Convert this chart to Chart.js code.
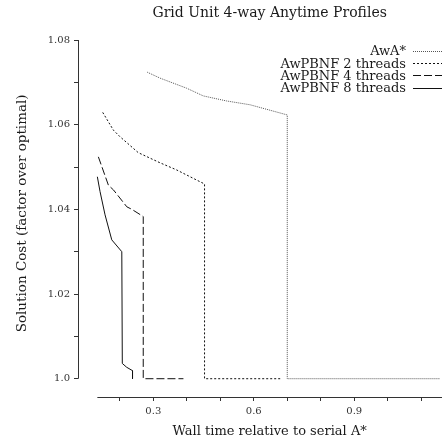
<!DOCTYPE html>
<html>
<head>
<meta charset="utf-8">
<script src="https://cdn.jsdelivr.net/npm/chart.js@4.4.1/dist/chart.umd.min.js"></script>
<style>
  html, body { margin: 0; padding: 0; background: #fff; }
  #chart { display: block; }
</style>
</head>
<body>
<canvas id="chart" width="442" height="442"></canvas>
<script>
// values
const awaX = [0.282, 0.32, 0.40, 0.449, 0.519, 0.589, 0.70, 0.70, 1.156];
const awaY = [1.0724, 1.071, 1.0686, 1.0668, 1.0656, 1.0647, 1.0623, 1.0, 1.0];

const pbnf2X = [0.149, 0.181, 0.20, 0.255, 0.32, 0.37, 0.43, 0.453, 0.453, 0.68];
const pbnf2Y = [1.0629, 1.0587, 1.0572, 1.0534, 1.051, 1.0493, 1.0469, 1.046, 1.0, 1.0];

const pbnf4X = [0.136, 0.166, 0.181, 0.221, 0.236, 0.27, 0.27, 0.39];
const pbnf4Y = [1.0524, 1.0457, 1.0446, 1.0406, 1.040, 1.0383, 1.0, 1.0];

const pbnf8X = [0.133, 0.141, 0.156, 0.176, 0.206, 0.2075, 0.2206, 0.238, 0.238];
const pbnf8Y = [1.0477, 1.0442, 1.0387, 1.0328, 1.030, 1.0036, 1.0027, 1.0019, 1.0];

const seriesNames = ["AwA*", "AwPBNF 2 threads", "AwPBNF 4 threads", "AwPBNF 8 threads"];

const xTicks = [0.2, 0.3, 0.4, 0.5, 0.6, 0.7, 0.8, 0.9, 1.0, 1.1];
const xTickLabels = ["", "0.3", "", "", "0.6", "", "", "0.9", "", ""];
const yTicks = [1.0, 1.01, 1.02, 1.03, 1.04, 1.05, 1.06, 1.07, 1.08];
const yTickLabels = ["1.0", "", "1.02", "", "1.04", "", "1.06", "", "1.08"];

const chartTitle = "Grid Unit 4-way Anytime Profiles";
const xTitle = "Wall time relative to serial A*";
const yTitle = "Solution Cost (factor over optimal)";

const FONT = "'DejaVu Serif', 'Liberation Serif', serif";
const INK = "#1a1a1a";
const AXIS = "#333";

const toPoints = (xs, ys) => xs.map((x, i) => ({ x: x, y: ys[i] }));

// 枠から離れた軸線（データ範囲だけ引く）とタイトル類
const detachedAxes = {
  id: "detachedAxes",
  afterDraw(chart) {
    const { ctx, chartArea, scales } = chart;
    const allX = [].concat(awaX, pbnf2X, pbnf4X, pbnf8X);
    const x0 = scales.x.getPixelForValue(Math.min(...allX));
    const yTop = scales.y.getPixelForValue(yTicks[yTicks.length - 1]);
    const yBot = scales.y.getPixelForValue(yTicks[0]);
    const xMid = (x0 + chartArea.right) / 2;
    ctx.save();
    ctx.strokeStyle = AXIS;
    ctx.lineWidth = 1;
    ctx.beginPath();
    ctx.moveTo(x0, chartArea.bottom + 0.5);
    ctx.lineTo(chartArea.right, chartArea.bottom + 0.5);
    ctx.moveTo(chartArea.left + 0.5, yTop);
    ctx.lineTo(chartArea.left + 0.5, yBot);
    ctx.stroke();

    ctx.fillStyle = INK;
    ctx.textAlign = "center";
    ctx.textBaseline = "middle";
    ctx.font = "14px " + FONT;
    ctx.fillText(chartTitle, xMid, 13.5);

    ctx.font = "13px " + FONT;
    ctx.fillText(xTitle, xMid, 432);

    ctx.font = "13.5px " + FONT;
    ctx.translate(22.5, (yTop + yBot) / 2 + 4);
    ctx.rotate(-Math.PI / 2);
    ctx.fillText(yTitle, 0, 0);
    ctx.restore();
  }
};

// 右上の凡例（文字が左、線見本が右）
const rightLegend = {
  id: "rightLegend",
  afterDraw(chart) {
    const { ctx } = chart;
    const textRight = 406;
    const sampleLeft = 413;
    const sampleRight = 442;
    let y = 52;
    ctx.save();
    ctx.font = "13px " + FONT;
    ctx.textAlign = "right";
    ctx.textBaseline = "middle";
    chart.data.datasets.forEach((ds) => {
      ctx.fillStyle = INK;
      ctx.fillText(ds.label, textRight, y);
      ctx.strokeStyle = ds.borderColor;
      ctx.lineWidth = ds.borderWidth;
      ctx.setLineDash(ds.borderDash || []);
      ctx.beginPath();
      ctx.moveTo(sampleLeft, Math.round(y) - 0.5);
      ctx.lineTo(sampleRight, Math.round(y) - 0.5);
      ctx.stroke();
      y += 12.2;
    });
    ctx.restore();
  }
};

new Chart(document.getElementById("chart"), {
  type: "scatter",
  data: {
    datasets: [
      {
        label: seriesNames[0],
        data: toPoints(awaX, awaY),
        borderColor: "#555",
        borderWidth: 1,
        borderDash: [1, 1]
      },
      {
        label: seriesNames[1],
        data: toPoints(pbnf2X, pbnf2Y),
        borderColor: "#111",
        borderWidth: 1,
        borderDash: [2, 2]
      },
      {
        label: seriesNames[2],
        data: toPoints(pbnf4X, pbnf4Y),
        borderColor: "#111",
        borderWidth: 1,
        borderDash: [8, 3]
      },
      {
        label: seriesNames[3],
        data: toPoints(pbnf8X, pbnf8Y),
        borderColor: "#111",
        borderWidth: 1,
        borderDash: []
      }
    ]
  },
  options: {
    responsive: false,
    animation: false,
    showLine: true,
    elements: {
      point: { radius: 0, hoverRadius: 0 },
      line: { tension: 0, fill: false }
    },
    layout: { padding: { top: 40, left: 0, right: 0, bottom: 0 } },
    plugins: {
      legend: { display: false },
      tooltip: { enabled: false },
      title: { display: false }
    },
    scales: {
      x: {
        type: "linear",
        min: 0.0752,
        max: 1.162,
        afterFit(s) { s.height = 45; },
        afterBuildTicks(s) { s.ticks = xTicks.map((v) => ({ value: v })); },
        ticks: {
          autoSkip: false,
          maxRotation: 0,
          padding: 4,
          color: AXIS,
          font: { family: FONT, size: 10 },
          callback: (v, i) => xTickLabels[i]
        },
        grid: { drawOnChartArea: false, drawTicks: true, tickLength: 4, color: AXIS },
        border: { display: false }
      },
      y: {
        type: "linear",
        min: 0.99568,
        max: 1.08,
        afterFit(s) { s.width = 78; },
        afterBuildTicks(s) { s.ticks = yTicks.map((v) => ({ value: v })); },
        ticks: {
          autoSkip: false,
          padding: 4,
          color: AXIS,
          font: { family: FONT, size: 10 },
          callback: (v, i) => yTickLabels[i]
        },
        grid: { drawOnChartArea: false, drawTicks: true, tickLength: 4, color: AXIS },
        border: { display: false }
      }
    }
  },
  plugins: [detachedAxes, rightLegend]
});
</script>
</body>
</html>
